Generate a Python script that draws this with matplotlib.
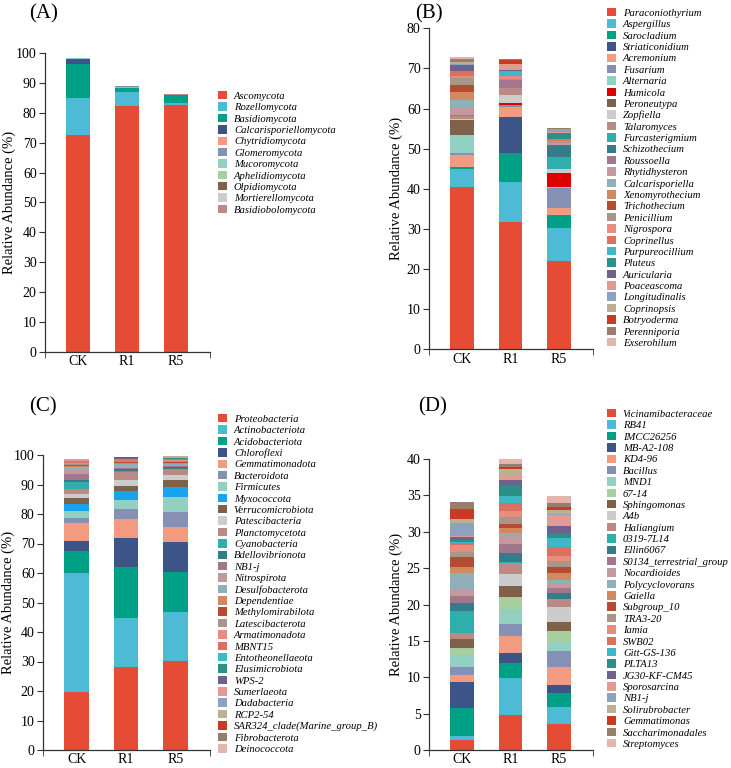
import numpy as np
import matplotlib
matplotlib.use('Agg')
import matplotlib.pyplot as plt
from matplotlib.patches import Patch

plt.rcParams['font.family'] = ['Liberation Serif', 'DejaVu Serif']

samples = ['CK', 'R1', 'R5']

#  shared 30-colour palette (slot 8 differs between panels)
palette = ['#E64B35', '#4DBBD5', '#00A087', '#3C5488', '#F39B7F', '#8491B4',
           '#91D1C2', '#A8CFA0', '#7E6148', '#CCCCCC', '#BC8A84', '#2EAFAB',
           '#367B89', '#A0778B', '#C4989F', '#8FB0B9', '#D2895F', '#B44C32',
           '#A89688', '#E88C7C', '#DC705F', '#3EB8C9', '#2B9088', '#6F608D',
           '#E19B92', '#8BA3BF', '#BDB092', '#CA3A22', '#9A7C6C', '#E4B4AE']

#  (A) fungal phyla
a_taxa = ['Ascomycota', 'Rozellomycota', 'Basidiomycota', 'Calcarisporiellomycota',
          'Chytridiomycota', 'Glomeromycota', 'Mucoromycota', 'Aphelidiomycota',
          'Olpidiomycota', 'Mortierellomycota', 'Basidiobolomycota']
a_ck = [72.7, 12.3, 11.2, 1.8, 0.1, 0.05, 0.05, 0.02, 0.02, 0.02, 0.02]
a_r1 = [82.2, 4.7, 1.4, 0.1, 0.2, 0.2, 0.05, 0.02, 0.02, 0.05, 0.02]
a_r5 = [82.5, 0.7, 2.6, 0.05, 0.1, 0.05, 0.02, 0.02, 0.02, 0.05, 0.02]

#  (B) fungal genera
b_taxa = ['Paraconiothyrium', 'Aspergillus', 'Sarocladium', 'Striaticonidium',
          'Acremonium', 'Fusarium', 'Alternaria', 'Humicola', 'Peroneutypa',
          'Zopfiella', 'Talaromyces', 'Furcasterigmium', 'Schizothecium',
          'Roussoella', 'Rhytidhysteron', 'Calcarisporiella', 'Xenomyrothecium',
          'Trichothecium', 'Penicillium', 'Nigrospora', 'Coprinellus',
          'Purpureocillium', 'Pluteus', 'Auricularia', 'Poaceascoma',
          'Longitudinalis', 'Coprinopsis', 'Botryoderma', 'Perenniporia',
          'Exserohilum']
b_ck = [40.5, 4.4, 0.5, 0.1, 2.9, 0.6, 4.4, 0.05, 3.8, 0.1, 0.7, 0.1, 0.1, 0.1,
        2.1, 1.8, 1.9, 1.8, 1.7, 0.4, 1.2, 0.1, 0.1, 1.3, 0.2, 0.1, 0.5, 0.1,
        0.8, 0.5]
b_r1 = [31.8, 10.0, 7.2, 9.0, 2.3, 0.6, 0.1, 0.4, 0.05, 2.0, 1.7, 0.1, 0.05,
        1.7, 0.05, 0.05, 0.05, 0.05, 0.1, 0.8, 0.1, 1.2, 0.05, 0.05, 1.5, 0.05,
        0.05, 1.1, 0.05, 0.05]
b_r5 = [22.1, 8.1, 3.3, 0.05, 1.6, 5.1, 0.1, 3.6, 0.05, 0.9, 0.1, 2.9, 3.0,
        0.1, 0.1, 0.2, 0.1, 0.1, 0.1, 0.3, 0.3, 0.1, 1.5, 0.1, 0.2, 0.7, 0.1,
        0.05, 0.1, 0.2]

#  (C) bacterial phyla
c_taxa = ['Proteobacteria', 'Actinobacteriota', 'Acidobacteriota', 'Chloroflexi',
          'Gemmatimonadota', 'Bacteroidota', 'Firmicutes', 'Myxococcota',
          'Verrucomicrobiota', 'Patescibacteria', 'Planctomycetota',
          'Cyanobacteria', 'Bdellovibrionota', 'NB1-j', 'Nitrospirota',
          'Desulfobacterota', 'Dependentiae', 'Methylomirabilota',
          'Latescibacterota', 'Armatimonadota', 'MBNT15', 'Entotheonellaeota',
          'Elusimicrobiota', 'WPS-2', 'Sumerlaeota', 'Dadabacteria', 'RCP2-54',
          'SAR324_clade(Marine_group_B)', 'Fibrobacterota', 'Deinococcota']
c_ck = [19.5, 40.4, 7.6, 3.3, 6.3, 1.4, 2.5, 2.4, 1.9, 1.5, 1.6, 2.4, 0.8, 2.0,
        1.4, 0.8, 0.4, 0.4, 0.3, 0.3, 0.3, 0.3, 0.2, 0.1, 0.2, 0.1, 0.1, 0.1,
        0.1, 0.1]
c_r1 = [28.2, 16.7, 17.2, 9.8, 6.3, 3.4, 3.1, 3.2, 1.6, 2.0, 2.8, 0.3, 0.8,
        0.2, 0.3, 1.0, 0.4, 0.3, 0.3, 0.2, 0.2, 0.3, 0.2, 0.1, 0.1, 0.1, 0.05,
        0.05, 0.05, 0.05]
c_r5 = [30.2, 16.6, 13.5, 10.2, 5.1, 5.2, 4.8, 3.7, 2.2, 1.7, 1.9, 0.3, 0.5,
        0.3, 0.4, 0.5, 0.3, 0.3, 0.3, 0.3, 0.3, 0.2, 0.2, 0.1, 0.1, 0.2, 0.1,
        0.05, 0.05, 0.05]

#  (D) bacterial genera
d_taxa = ['Vicinamibacteraceae', 'RB41', 'IMCC26256', 'MB-A2-108', 'KD4-96',
          'Bacillus', 'MND1', '67-14', 'Sphingomonas', 'A4b', 'Haliangium',
          '0319-7L14', 'Ellin6067', 'S0134_terrestrial_group', 'Nocardioides',
          'Polycyclovorans', 'Gaiella', 'Subgroup_10', 'TRA3-20', 'Iamia',
          'SWB02', 'Gitt-GS-136', 'PLTA13', 'JG30-KF-CM45', 'Sporosarcina',
          'NB1-j', 'Solirubrobacter', 'Gemmatimonas', 'Saccharimonadales',
          'Streptomyces']
d_ck = [1.4, 0.55, 3.8, 3.6, 0.9, 1.2, 1.6, 1.0, 1.15, 0.05, 0.8, 3.0, 1.15,
        0.9, 0.9, 2.3, 0.9, 1.3, 0.7, 1.0, 0.2, 0.2, 0.3, 0.35, 0.1, 1.9, 0.5,
        1.35, 1.0, 0.05]
d_r1 = [4.8, 5.1, 2.0, 1.4, 2.4, 1.6, 2.15, 1.55, 1.5, 1.7, 1.45, 0.15, 1.3,
        1.25, 1.15, 0.3, 0.7, 0.55, 1.0, 0.8, 1.1, 0.9, 1.4, 0.9, 0.6, 0.05,
        0.8, 0.3, 0.45, 0.8]
d_r5 = [3.6, 2.35, 1.85, 1.15, 2.5, 2.15, 1.3, 1.45, 1.3, 1.95, 1.1, 0.1, 0.8,
        0.65, 0.7, 0.45, 0.9, 0.9, 0.8, 0.7, 1.2, 1.2, 0.6, 1.1, 1.5, 0.1, 0.6,
        0.45, 0.55, 0.9]


def colours(slot8):
    c = list(palette)
    c[7] = slot8
    return c


def panel(rect, label, label_xy, taxa, vals, cols, ymax, ystep, leg_xy, ylab_x):
    ax = fig.add_axes(rect)
    x = np.arange(len(samples))
    data = np.array(vals)          # samples x taxa
    bottom = np.zeros(len(samples))
    handles = []
    for i, name in enumerate(taxa):
        ax.bar(x, data[:, i], 0.49, bottom=bottom, color=cols[i], linewidth=0)
        bottom += data[:, i]
        handles.append(Patch(facecolor=cols[i], edgecolor='none'))

    ax.set_xlim(-0.68, 2.7)
    ax.set_ylim(0, ymax)
    ax.set_yticks(np.arange(0, ymax + 0.1, ystep))
    ax.set_xticks(x)
    ax.set_xticklabels(samples)
    ax.set_xticks([-0.68, 2.7], minor=True)
    ax.tick_params(axis='x', which='major', length=0, pad=2.5, labelsize=10)
    ax.tick_params(axis='x', which='minor', length=4, direction='out', color='#333333')
    ax.tick_params(axis='y', length=4, direction='out', labelsize=10, color='#333333', pad=2)
    for s in ['top', 'right']:
        ax.spines[s].set_visible(False)
    for s in ['left', 'bottom']:
        ax.spines[s].set_color('#333333')
        ax.spines[s].set_linewidth(0.9)
    ax.set_ylabel('Relative Abundance (%)', fontsize=10.5)
    ax.yaxis.set_label_coords(ylab_x, 0.5)

    fig.text(label_xy[0] / 731, 1 - label_xy[1] / 768, label, fontsize=15,
             ha='left', va='center')

    ax.legend(handles, taxa, loc='upper left',
              bbox_to_anchor=(leg_xy[0] / 731, 1 - leg_xy[1] / 768),
              bbox_transform=fig.transFigure, frameon=False, borderaxespad=0,
              borderpad=0, handlelength=0.84, handleheight=0.84,
              handletextpad=0.65, labelspacing=0.135,
              prop={'style': 'italic', 'size': 7.7})
    return ax


fig = plt.figure(figsize=(7.31, 7.68), dpi=100)

panel([45 / 731, 1 - 352 / 768, 165 / 731, 299 / 768], '(A)', (29, 14),
      a_taxa, [a_ck, a_r1, a_r5], colours('#A8CFA0'), 100, 10, (218, 91), -0.176)
panel([429 / 731, 1 - 349.3 / 768, 164 / 731, 321 / 768], '(B)', (415, 14),
      b_taxa, [b_ck, b_r1, b_r5], colours('#DC0000'), 80, 10, (607, 8), -0.159)
panel([43 / 731, 1 - 750 / 768, 167 / 731, 295 / 768], '(C)', (29, 407),
      c_taxa, [c_ck, c_r1, c_r5], colours('#16A3EF'), 100, 10, (218, 414), -0.168)
panel([429 / 731, 1 - 750 / 768, 164 / 731, 291 / 768], '(D)', (418, 407),
      d_taxa, [d_ck, d_r1, d_r5], colours('#A8CFA0'), 40, 5, (607, 409), -0.159)

fig.savefig('out.png', dpi=100)
